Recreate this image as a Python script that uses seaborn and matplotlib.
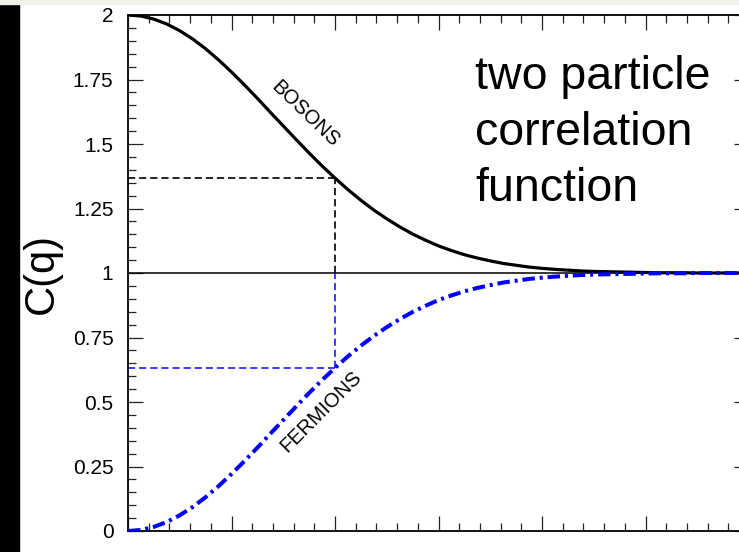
import numpy as np
import pandas as pd
import matplotlib
matplotlib.use('Agg')
import matplotlib.pyplot as plt
from matplotlib.patches import Rectangle
from matplotlib.ticker import MultipleLocator, FixedLocator, NullFormatter
import seaborn as sns

# data
q = [0, 0.125, 0.25, 0.375, 0.5, 0.625, 0.75, 0.875, 1, 1.125, 1.25, 1.375,
     1.5, 1.625, 1.75, 1.875, 2, 2.125, 2.25, 2.375, 2.5, 2.625, 2.75, 2.875,
     3, 3.125, 3.25, 3.375, 3.5, 3.625, 3.75, 3.875, 4, 4.125, 4.25, 4.375,
     4.5, 4.625, 4.75, 4.875, 5, 5.125, 5.25, 5.375, 5.5, 5.625, 5.75, 5.875, 6]
bosons = [2.000, 1.996, 1.984, 1.965, 1.939, 1.907, 1.869, 1.826, 1.779, 1.729,
          1.677, 1.623, 1.570, 1.517, 1.465, 1.415, 1.368, 1.323, 1.282, 1.244,
          1.210, 1.179, 1.151, 1.127, 1.105, 1.087, 1.071, 1.058, 1.047, 1.037,
          1.030, 1.023, 1.018, 1.014, 1.011, 1.008, 1.006, 1.005, 1.004, 1.003,
          1.002, 1.001, 1.001, 1.001, 1.000, 1.000, 1.000, 1.000, 1.000]
fermions = [0.000, 0.004, 0.016, 0.035, 0.061, 0.093, 0.131, 0.174, 0.221, 0.271,
            0.323, 0.377, 0.430, 0.483, 0.535, 0.585, 0.632, 0.677, 0.718, 0.756,
            0.790, 0.821, 0.849, 0.873, 0.895, 0.913, 0.929, 0.942, 0.953, 0.963,
            0.970, 0.977, 0.982, 0.986, 0.989, 0.992, 0.994, 0.995, 0.996, 0.997,
            0.998, 0.999, 0.999, 0.999, 1.000, 1.000, 1.000, 1.000, 1.000]
q_mark = 2.0
c_boson_mark = 1.368
c_fermion_mark = 0.632
y_ticks = [0, 0.25, 0.5, 0.75, 1, 1.25, 1.5, 1.75, 2]
y_ticklabels = ['0', '0.25', '0.5', '0.75', '1', '1.25', '1.5', '1.75', '2']

df = pd.DataFrame({'q': q, 'bosons': bosons, 'fermions': fermions})

sns.set_style('ticks')
plt.rcParams['font.family'] = ['Liberation Sans', 'DejaVu Sans']
plt.rcParams['text.color'] = 'black'
plt.rcParams['ytick.labelcolor'] = 'black'
plt.rcParams['lines.scale_dashes'] = False

fig = plt.figure(figsize=(7.39, 5.52), dpi=100)
ax = fig.add_axes([128 / 739, 21 / 552, 621 / 739, 516 / 552])

# reference lines
dash = (0, (5.2, 2.8))
ax.axhline(1, color='black', lw=1.1, zorder=1)
ax.plot([0, q_mark], [c_boson_mark, c_boson_mark], color='black', lw=1.2, linestyle=dash)
ax.plot([q_mark, q_mark], [1, c_boson_mark], color='black', lw=1.2, linestyle=dash)
ax.plot([0, q_mark], [c_fermion_mark, c_fermion_mark], color='#1a1aff', lw=1.2, linestyle=dash)
ax.plot([q_mark, q_mark], [c_fermion_mark, 1], color='#1a1aff', lw=1.2, linestyle=dash)

sns.lineplot(data=df, x='q', y='bosons', color='black', lw=2.3, ax=ax, zorder=3)
sns.lineplot(data=df, x='q', y='fermions', color='#0000ff', lw=2.9, ax=ax, zorder=3,
             linestyle=(0, (9, 3.5, 2.2, 3.5)))

ax.set_xlim(0, 6)
ax.set_ylim(0, 2)
ax.set_xlabel('')
ax.set_ylabel('')

ax.xaxis.set_major_locator(MultipleLocator(1))
ax.xaxis.set_minor_locator(MultipleLocator(0.2))
ax.xaxis.set_major_formatter(NullFormatter())
ax.yaxis.set_major_locator(FixedLocator(y_ticks))
ax.set_yticklabels(y_ticklabels)
ax.yaxis.set_minor_locator(MultipleLocator(0.05))

ax.tick_params(which='both', direction='in', top=True, right=True,
               width=0.9, color='#222222')
ax.tick_params(which='major', length=10.5)
ax.tick_params(which='minor', length=5.5)
ax.tick_params(axis='y', which='major', labelsize=15, pad=10.5, labelcolor='black')
for s in ax.spines.values():
    s.set_linewidth(1.4)
    s.set_color('#111111')

ax.text(1.71, 1.616, 'BOSONS', rotation=-44, fontsize=14.5, ha='center', va='center')
ax.text(1.865, 0.461, 'FERMIONS', rotation=45, fontsize=14.5, ha='center', va='center')

fig.text(475 / 739, 1 - 55 / 552, 'two particle\ncorrelation\nfunction',
         fontsize=33.5, ha='left', va='top', linespacing=1.36)
fig.text(42 / 739, 1 - 274 / 552, 'C(q)', rotation=90, fontsize=30,
         ha='center', va='center')

# slide frame pieces
fig.patches.append(Rectangle((0, 0), 19 / 739, 548 / 552, transform=fig.transFigure,
                             color='black', zorder=0))
fig.patches.append(Rectangle((0, 1 - 3.5 / 552), 1, 3.5 / 552, transform=fig.transFigure,
                             color='#f2f1e9', zorder=0))

fig.savefig('out.png', dpi=100)
